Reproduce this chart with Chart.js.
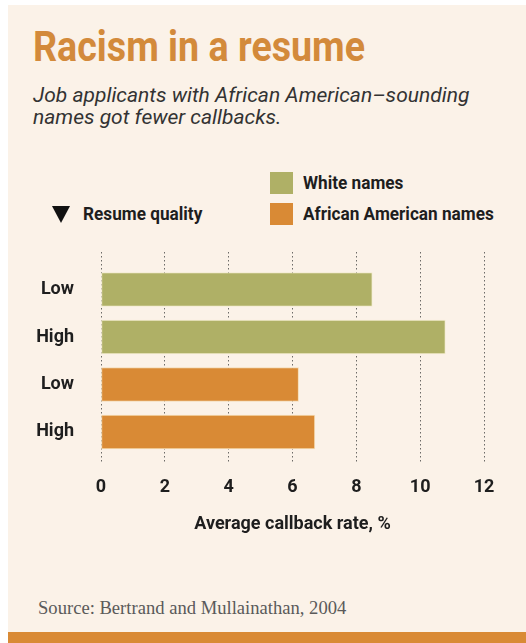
<!DOCTYPE html>
<html lang="en">
<head>
<meta charset="UTF-8">
<title>Racism in a resume</title>
<script src="https://cdn.jsdelivr.net/npm/chart.js"></script>
<style>
    body {
        margin: 0;
        width: 526px;
        height: 643px;
        background: #ffffff;
        position: relative;
        overflow: hidden;
    }
    .card {
        position: absolute;
        left: 8px; top: 5px;
        width: 518px; height: 638px;
        background: #fbf2e8;
    }
    .band {
        position: absolute;
        left: 8px; top: 632px;
        width: 518px; height: 11px;
        background: #d98a35;
    }
    .narrow {
        font-family: Roboto, 'Liberation Sans', sans-serif;
        font-weight: bold;
    }
    h1 {
        position: absolute;
        left: 33px; top: 25px;
        margin: 0;
        font-size: 43px;
        line-height: 43px;
        color: #d38a3b;
        white-space: nowrap;
        transform: scaleX(0.875);
        transform-origin: 0 0;
    }
    .sub {
        position: absolute;
        left: 33px; top: 84px;
        margin: 0;
        font-family: Roboto, 'Open Sans', sans-serif;
        font-style: italic;
        font-size: 21px;
        line-height: 22px;
        color: #333333;
    }
    .leg {
        position: absolute;
        font-size: 18px;
        line-height: 18px;
        color: #1e1e1e;
        white-space: nowrap;
        transform: scaleX(0.955);
        transform-origin: 0 0;
    }
    .sw {
        position: absolute;
        width: 23px; height: 22px;
    }
    .tri {
        position: absolute;
        left: 52px; top: 206px;
        width: 0; height: 0;
        border-left: 9px solid transparent;
        border-right: 9px solid transparent;
        border-top: 17px solid #111111;
    }
    .source {
        position: absolute;
        left: 38px; top: 598px;
        font-family: 'Liberation Serif', 'DejaVu Serif', serif;
        font-size: 18.6px;
        line-height: 20px;
        color: #5a5a5a;
        white-space: nowrap;
    }
    .chart-box {
        position: absolute;
        left: 8px; top: 240px;
        width: 518px; height: 300px;
    }
</style>
</head>
<body>
<div class="card"></div>
<div class="band"></div>

<h1 class="narrow">Racism in a resume</h1>
<p class="sub">Job applicants with African American–sounding<br>names got fewer callbacks.</p>

<div class="sw" id="sw0" style="left:270px; top:172px;"></div>
<div class="leg narrow" id="lg0" style="left:303px; top:174px;"></div>
<div class="sw" id="sw1" style="left:270px; top:203px;"></div>
<div class="leg narrow" id="lg1" style="left:303px; top:205px;"></div>
<div class="tri"></div>
<div class="leg narrow" style="left:83px; top:205px;">Resume quality</div>

<div class="chart-box"><canvas id="resumeChart"></canvas></div>

<div class="source">Source: Bertrand and Mullainathan, 2004</div>

<script>
// rows top to bottom
var rowLabels = ['Low', 'High', 'Low', 'High'];
var seriesNames = ['White names', 'African American names'];
var seriesColors = ['#afb066', '#d98a35'];
var whiteRates = [8.5, 10.79];      // rows 0, 1
var blackRates = [6.19, 6.7];       // rows 2, 3
var xTicks = [0, 2, 4, 6, 8, 10, 12];
var axisTitle = 'Average callback rate, %';

var axisFont = { family: "Roboto, 'Liberation Sans', sans-serif", size: 18, weight: 'bold' };

for (var i = 0; i < 2; i++) {
    document.getElementById('sw' + i).style.background = seriesColors[i];
    document.getElementById('lg' + i).textContent = seriesNames[i];
}

function toPoints(values, firstRow) {
    return values.map(function (v, i) { return { x: v, y: firstRow + i }; });
}

var ctx = document.getElementById('resumeChart').getContext('2d');
var chart = new Chart(ctx, {
    type: 'bar',
    data: {
        datasets: [
            {
                label: seriesNames[0],
                data: toPoints(whiteRates, 0),
                backgroundColor: seriesColors[0],
                borderColor: '#f3ecd0',
                borderWidth: 1,
                borderSkipped: false,
                grouped: false,
                barThickness: 34
            },
            {
                label: seriesNames[1],
                data: toPoints(blackRates, 2),
                backgroundColor: seriesColors[1],
                borderColor: '#f5dcb5',
                borderWidth: 1,
                borderSkipped: false,
                grouped: false,
                barThickness: 34
            }
        ]
    },
    options: {
        indexAxis: 'y',
        responsive: true,
        maintainAspectRatio: false,
        animation: false,
        layout: { padding: { top: 12, right: 42, bottom: 5, left: 0 } },
        plugins: {
            legend: { display: false },
            tooltip: { enabled: false }
        },
        scales: {
            x: {
                type: 'linear',
                min: 0,
                max: 12,
                z: 1,
                afterBuildTicks: function (scale) {
                    scale.ticks = xTicks.map(function (v) { return { value: v }; });
                },
                afterFit: function (scale) { scale.height = 71; },
                border: { display: false, dash: [1.5, 2.5] },
                grid: {
                    color: 'rgba(60, 60, 60, 0.75)',
                    lineWidth: 1,
                    drawTicks: false
                },
                ticks: {
                    padding: 13,
                    color: '#1e1e1e',
                    font: axisFont
                },
                title: {
                    display: true,
                    text: axisTitle,
                    color: '#1e1e1e',
                    padding: 0,
                    font: axisFont
                }
            },
            y: {
                type: 'linear',
                offset: false,
                reverse: true,
                min: -0.79,
                max: 3.674,
                afterBuildTicks: function (scale) {
                    scale.ticks = rowLabels.map(function (l, i) { return { value: i }; });
                },
                afterFit: function (scale) {
                    scale.width = 93;
                    scale.paddingTop = 0;
                    scale.paddingBottom = 0;
                },
                border: { display: false },
                grid: { display: false, drawTicks: false, offset: false },
                ticks: {
                    padding: 27,
                    color: '#1e1e1e',
                    font: axisFont,
                    callback: function (v) { return rowLabels[v]; }
                }
            }
        }
    }
});
</script>
</body>
</html>
